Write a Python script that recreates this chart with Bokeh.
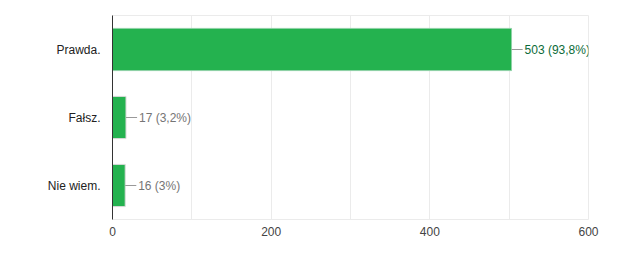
from bokeh.plotting import figure
from bokeh.models import ColumnDataSource, FixedTicker
from bokeh.embed import file_html
from bokeh.resources import INLINE
from bokeh.core.properties import value

categories = ["Prawda.", "Fałsz.", "Nie wiem."]
counts = [503, 17, 16]
labels = ["503 (93,8%)", "17 (3,2%)", "16 (3%)"]
label_colors = ["#0b6b38", "#757575", "#757575"]
bar_lines = ["#8fd1a7", "#d9d9d9", "#d9d9d9"]
x_ticks = [0, 200, 400, 600]
grid_ticks = [0, 100, 200, 300, 400, 500, 600]

FONT = "Liberation Sans"
lead = 14  # leader length in data units (~11 px)

src = ColumnDataSource(dict(
    cat=categories, v=counts, lab=labels, lc=label_colors, bl=bar_lines,
    x1=[c + lead for c in counts],
))

p = figure(width=635, height=259, y_range=list(reversed(categories)),
           x_range=(0, 600), output_backend="svg", toolbar_location=None,
           min_border_left=112, min_border_right=47, min_border_top=15,
           min_border_bottom=40)

p.hbar(y="cat", right="v", left=0, height=0.62, source=src,
       fill_color="#24b24f", line_color="bl", line_width=1)
p.segment(x0="v", y0="cat", x1="x1", y1="cat", source=src,
          line_color="#999999", line_width=1)
p.text(x="v", y="cat", text="lab", source=src, x_offset=13,
       text_color="lc", text_font=value(FONT), text_font_size="12px",
       text_baseline="middle", text_align="left")

p.outline_line_color = "#ebebeb"
p.ygrid.grid_line_color = None
p.xgrid.ticker = FixedTicker(ticks=grid_ticks)
p.xgrid.grid_line_color = "#ebebeb"

p.xaxis.ticker = FixedTicker(ticks=x_ticks)
p.xaxis.axis_line_color = None
p.xaxis.major_tick_line_color = None
p.xaxis.minor_tick_line_color = None
p.xaxis.major_tick_out = 0
p.xaxis.minor_tick_out = 0
p.xaxis.major_label_standoff = 7
p.xaxis.major_label_text_font = FONT
p.xaxis.major_label_text_font_size = "12px"
p.xaxis.major_label_text_color = "#444444"

p.yaxis.axis_line_color = "#333333"
p.yaxis.axis_line_width = 1
p.yaxis.major_tick_line_color = None
p.yaxis.minor_tick_line_color = None
p.yaxis.major_tick_out = 0
p.yaxis.minor_tick_out = 0
p.yaxis.major_label_standoff = 12
p.yaxis.major_label_text_font = FONT
p.yaxis.major_label_text_font_size = "12px"
p.yaxis.major_label_text_color = "#222222"

open("out.html", "w").write(file_html(p, INLINE))
